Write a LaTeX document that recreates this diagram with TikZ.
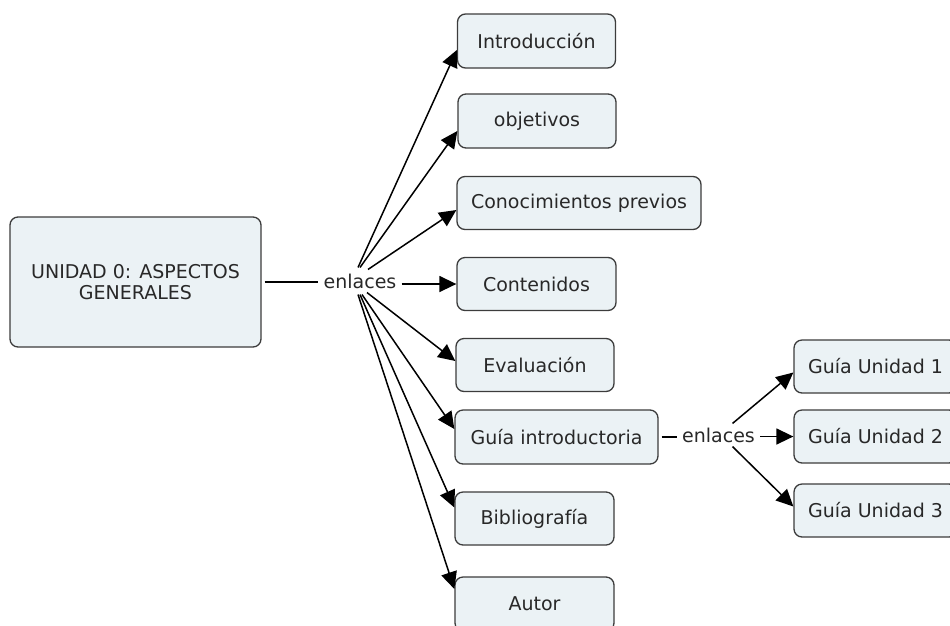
\documentclass[tikz,border=0pt]{standalone}
\usepackage{fontspec}
\setmainfont{DejaVu Sans}
\usetikzlibrary{arrows.meta,calc}
\definecolor{boxfill}{RGB}{235,242,245}
\definecolor{boxline}{RGB}{60,60,60}
\definecolor{txt}{RGB}{40,40,40}
\begin{document}
\begin{tikzpicture}[x=1pt,y=-1pt,
  box/.style={draw=boxline,fill=boxfill,line width=1.3pt,rounded corners=8pt,
    rectangle,inner sep=0pt,align=center,text=txt,font=\fontsize{19}{21}\selectfont},
  lbl/.style={inner xsep=5pt,inner ysep=1pt,text=txt,font=\fontsize{19}{21}\selectfont},
  arr/.style={line width=1.5pt,-{Triangle[length=17pt,width=16pt]}},
  ln/.style={line width=1.5pt}]
\useasboundingbox (0,0) rectangle (950,625);
% nodes
\node[box,minimum width=251pt,minimum height=130pt] (main) at (135.5,282) {UNIDAD 0: ASPECTOS\\GENERALES};
\node[box,minimum width=158pt,minimum height=54pt] (intro) at (536.5,41) {Introducción};
\node[box,minimum width=158pt,minimum height=54pt] (obj) at (537,121) {objetivos};
\node[box,minimum width=244pt,minimum height=53pt] (con) at (579,203) {Conocimientos previos};
\node[box,minimum width=159pt,minimum height=53pt] (cont) at (536.5,284) {Contenidos};
\node[box,minimum width=158pt,minimum height=53pt] (eval) at (535,365) {Evaluación};
\node[box,minimum width=203pt,minimum height=54pt] (gi) at (556.5,437) {Guía introductoria};
\node[box,minimum width=159pt,minimum height=53pt] (bib) at (534.5,518.5) {Bibliografía};
\node[box,minimum width=159pt,minimum height=54pt] (autor) at (534.5,604) {Autor};
\node[box,minimum width=163pt,minimum height=53pt] (gu1) at (875.5,366.5) {Guía Unidad 1};
\node[box,minimum width=163pt,minimum height=53pt] (gu2) at (875.5,436.5) {Guía Unidad 2};
\node[box,minimum width=163pt,minimum height=53pt] (gu3) at (875.5,510.5) {Guía Unidad 3};
\node[lbl] (e1) at (360,281) {enlaces};
\node[lbl] (e2) at (718.5,435) {enlaces};
% connectors
\draw[ln,shorten <=3pt] (main.east) -- (main.east -| e1.west);
\draw[arr] ($(e1.north)+(-2,-5)$) -- ($(intro.west)+(0,9)$);
\draw[arr] ($(e1.north)+(0,-5)$) -- ($(obj.west)+(0,10)$);
\draw[arr] ($(e1.north)+(8,-3)$) -- ($(con.west)+(0,7)$);
\draw[arr] (cont.west -| e1.east) -- (cont.west);
\draw[arr] ($(e1.south)+(7,3)$) -- ($(eval.west)+(0,-4)$);
\draw[arr] ($(e1.south)+(2,5)$) -- ($(gi.west)+(0,-8)$);
\draw[arr] ($(e1.south)+(0,5)$) -- ($(bib.west)+(0,-11)$);
\draw[arr] ($(e1.south)+(-2,5)$) -- ($(autor.west)+(0,-15)$);
\draw[ln,shorten <=3pt] (gi.east) -- (gi.east -| e2.west);
\draw[arr] ($(e2.north)+(14,-3)$) -- ($(gu1.west)+(0,6)$);
\draw[arr] (gu2.west -| e2.east) -- (gu2.west);
\draw[arr] ($(e2.south)+(14,3)$) -- ($(gu3.west)+(0,-4)$);
\end{tikzpicture}
\end{document}
